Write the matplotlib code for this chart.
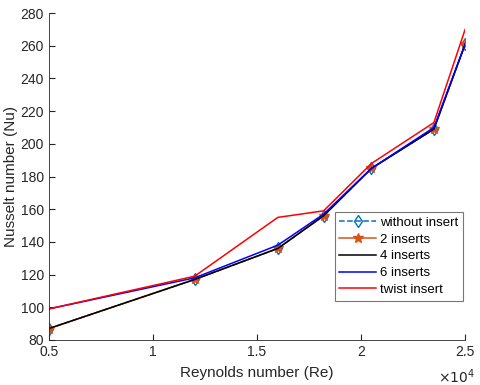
import matplotlib
matplotlib.use("Agg")
import matplotlib.pyplot as plt
from matplotlib.ticker import FuncFormatter

plt.rcParams['font.family'] = ['Liberation Sans', 'DejaVu Sans']

re = [5000, 12000, 16000, 18200, 20500, 23500, 25000]
nu_without = [87, 117, 136, 156, 185, 209, 261]
nu_2 = [87, 117, 136, 156, 185, 209, 261]
nu_4 = [87, 117, 136, 156, 185, 209, 261]
nu_6 = [99, 118, 138, 157, 185, 210, 261]
nu_twist = [99, 119, 155, 159, 188, 213, 270]

fig = plt.figure(figsize=(4.8, 3.85), dpi=100)
ax = fig.add_axes([0.102, 0.117, 0.867, 0.849])

ax.plot(re, nu_without, ls='--', color='#0072BD', marker='d', mfc='none', ms=6, lw=1.1, label='without insert')
ax.plot(re, nu_2, color='#D95319', marker='*', ms=7, lw=1.1, label='2 inserts')
ax.plot(re, nu_4, color='black', lw=1.1, label='4 inserts')
ax.plot(re, nu_6, color='blue', lw=1.1, label='6 inserts')
ax.plot(re, nu_twist, color='red', lw=1.1, label='twist insert')

ax.set_xlim(5000, 25000)
ax.set_ylim(80, 280)
ax.set_xticks([5000, 10000, 15000, 20000, 25000])
ax.set_yticks(range(80, 281, 20))
ax.xaxis.set_major_formatter(FuncFormatter(lambda v, p: f"{v/1e4:g}"))
ax.tick_params(direction='in', colors='#262626', labelsize=10, length=4)
for s in ['top', 'right']:
    ax.spines[s].set_visible(False)
for s in ['left', 'bottom']:
    ax.spines[s].set_color('#262626')
    ax.spines[s].set_linewidth(0.6)

ax.set_xlabel('Reynolds number (Re)', fontsize=11, color='#262626', labelpad=5)
ax.set_ylabel('Nusselt number (Nu)', fontsize=11, color='#262626', labelpad=2)
fig.text(0.99, 0.022, r'$\times 10^4$', ha='right', va='center', fontsize=10, color='#262626')

leg = ax.legend(loc='lower right', bbox_to_anchor=(0.995, 0.12), fontsize=9.5, frameon=True, fancybox=False,
                edgecolor='#555555', handlelength=2.8, handletextpad=0.3, borderpad=0.35,
                labelspacing=0.35, borderaxespad=0)
leg.get_frame().set_linewidth(0.8)

fig.savefig('out.png', dpi=100)
